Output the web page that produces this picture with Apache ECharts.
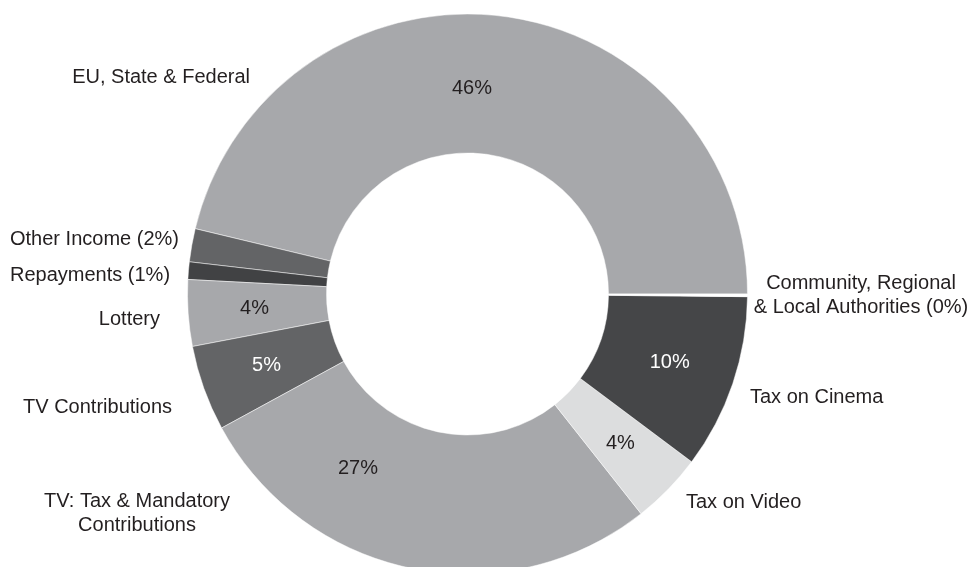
<!DOCTYPE html>
<html>
<head>
<meta charset="utf-8">
<script src="https://cdn.jsdelivr.net/npm/echarts@6/dist/echarts.min.js"></script>
<style>
  html, body { margin: 0; padding: 0; background: #ffffff; }
  #chart { width: 973px; height: 567px; }
</style>
</head>
<body>
<div id="chart"></div>
<script>
// Funding sources, share of total income (%)
const categories = [
  'EU, State & Federal',
  'Other Income (2%)',
  'Repayments (1%)',
  'Lottery',
  'TV Contributions',
  'TV: Tax & Mandatory\nContributions',
  'Tax on Video',
  'Tax on Cinema',
  'Community, Regional\n& Local Authorities (0%)'
];
const shares = [45.9, 1.9, 1.0, 3.8, 4.9, 27.49, 4.1, 10.0, 0.15];
// which slices carry a percentage inside the ring
const showInside = [true, false, false, true, true, true, true, true, false];

const sliceColors = ['#a7a8ab', '#636466', '#414244', '#a7a8ab', '#636466', '#a7a8ab', '#dcddde', '#454648', '#ffffff'];
const insideTextColors = ['#231f20', '#ffffff', '#ffffff', '#231f20', '#ffffff', '#231f20', '#231f20', '#ffffff', '#231f20'];

// outer name label anchors: [x, y, align]
const nameAnchors = [
  [250, 77, 'right'],
  [10, 239, 'left'],
  [10, 275, 'left'],
  [160, 319, 'right'],
  [172, 407, 'right'],
  [137, 513, 'center'],
  [686, 502, 'left'],
  [750, 397, 'left'],
  [861, 295, 'center']
];
// percentage labels that sit away from the slice centre
const insideAnchors = { 0: [472, 88], 5: [358, 468] };

const FONT = '"Liberation Sans", Arial, Helvetica, sans-serif';
const CENTER = [467.5, 294];
const RADIUS = [141, 280];

const chart = echarts.init(document.getElementById('chart'), null, { renderer: 'canvas' });

const ringData = categories.map((name, i) => ({
  name,
  value: shares[i],
  itemStyle: { color: sliceColors[i] },
  label: {
    show: showInside[i],
    color: insideTextColors[i]
  }
}));

const nameData = categories.map((name, i) => ({
  name,
  value: shares[i]
}));

chart.setOption({
  animation: false,
  backgroundColor: '#ffffff',
  series: [
    {
      type: 'pie',
      center: CENTER,
      radius: RADIUS,
      startAngle: 0,
      clockwise: false,
      avoidLabelOverlap: false,
      silent: true,
      itemStyle: { borderColor: '#ffffff', borderWidth: 0.5 },
      label: {
        position: 'inside',
        fontFamily: FONT,
        fontSize: 20,
        formatter: p => Math.round(p.value) + '%'
      },
      labelLine: { show: false },
      labelLayout: p => {
        const a = insideAnchors[p.dataIndex];
        return a ? { x: a[0], y: a[1], align: 'center', verticalAlign: 'middle' } : {};
      },
      data: ringData
    },
    {
      type: 'pie',
      center: CENTER,
      radius: RADIUS,
      startAngle: 0,
      clockwise: false,
      avoidLabelOverlap: false,
      silent: true,
      itemStyle: { color: 'rgba(0,0,0,0)' },
      label: {
        position: 'outside',
        fontFamily: FONT,
        fontSize: 20,
        lineHeight: 24,
        color: '#231f20',
        formatter: p => p.name
      },
      labelLine: { show: false },
      labelLayout: p => {
        const a = nameAnchors[p.dataIndex];
        return { x: a[0], y: a[1], align: a[2], verticalAlign: 'middle' };
      },
      data: nameData
    }
  ]
});
</script>
</body>
</html>
